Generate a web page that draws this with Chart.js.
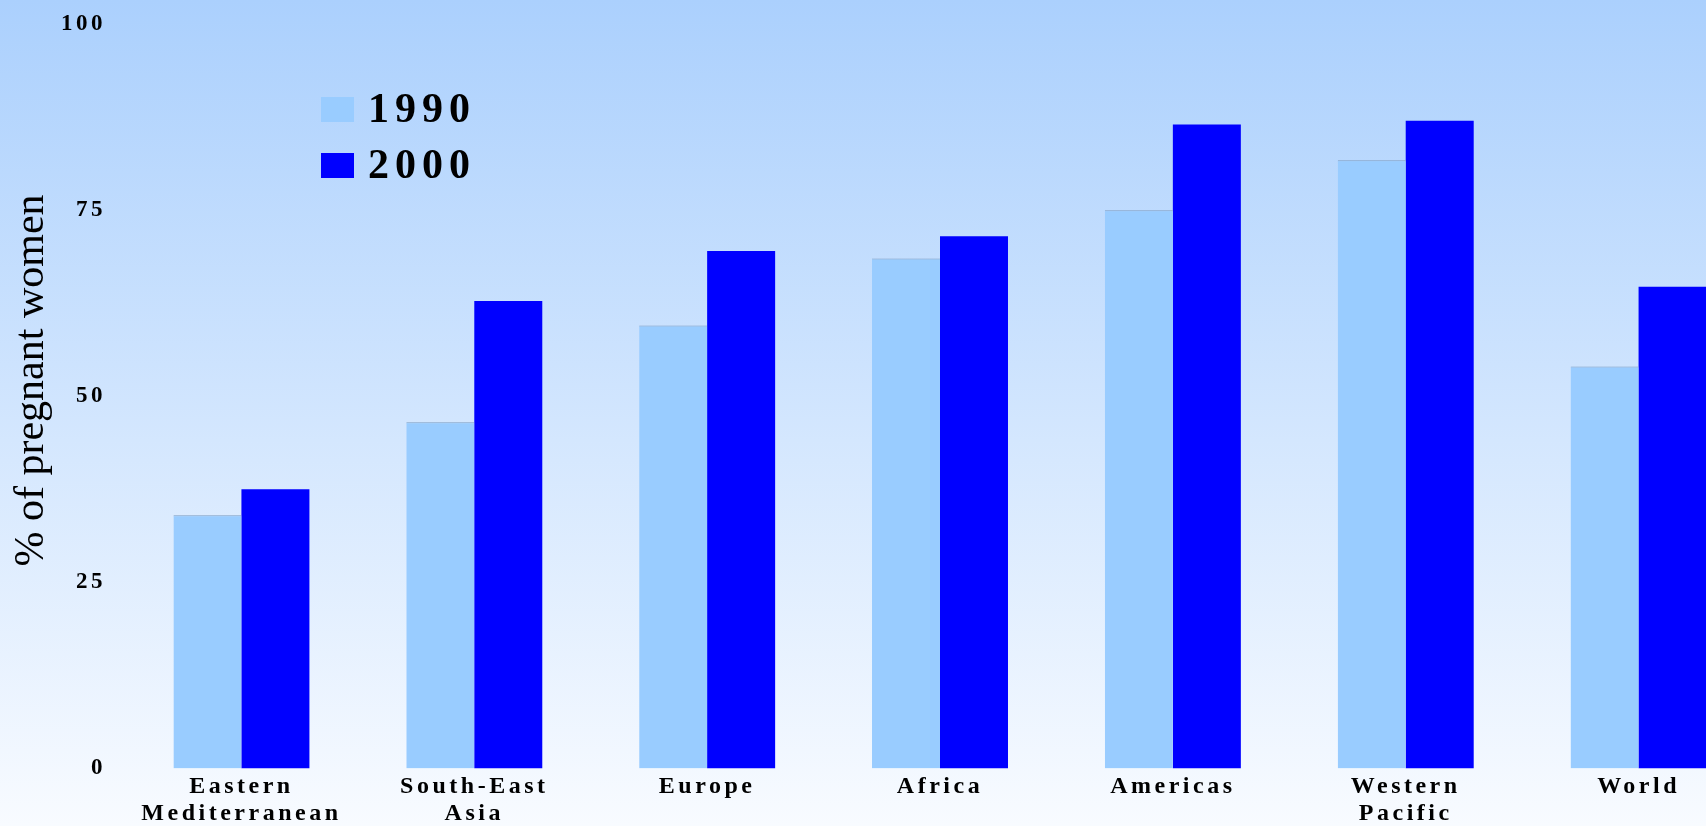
<!DOCTYPE html>
<html>
<head>
<meta charset="utf-8">
<script src="https://cdn.jsdelivr.net/npm/chart.js@4.4.0/dist/chart.umd.min.js"></script>
<style>
  html, body { margin: 0; padding: 0; width: 1706px; height: 826px; overflow: hidden; }
  body { background: linear-gradient(to bottom, #abd0fd 0%, #f8fbff 100%); }
  canvas { display: block; }
</style>
</head>
<body>
<canvas id="barChart" width="1755" height="826"></canvas>
<script>
const regions = [['Eastern', 'Mediterranean'], ['South-East', 'Asia'], 'Europe', 'Africa', 'Americas', ['Western', 'Pacific'], 'World'];
const years = ['1990', '2000'];
const values1990 = [34, 46.5, 59.5, 68.5, 75, 81.7, 54];
const values2000 = [37.5, 62.8, 69.5, 71.5, 86.5, 87, 64.7];
const yTicks = [0, 25, 50, 75, 100];

const serif = "'Liberation Serif', 'Times New Roman', serif";

// the original text looks stretched sideways, so space out the tick labels
const spacing = {
  id: 'spacing',
  beforeDraw(chart) { chart.ctx.letterSpacing = '0px'; },
  afterDatasetsDraw(chart) { chart.ctx.letterSpacing = '3.5px'; }
};

// legend sits inside the plot, top left
const boxLegend = {
  id: 'boxLegend',
  afterDraw(chart) {
    const ctx = chart.ctx;
    ctx.save();
    ctx.letterSpacing = '6px';
    ctx.font = 'bold 42px ' + serif;
    ctx.textBaseline = 'alphabetic';
    chart.data.datasets.forEach((ds, i) => {
      const y = 97 + i * 56;
      ctx.fillStyle = ds.backgroundColor;
      ctx.fillRect(321, y, 33, 25);
      ctx.fillStyle = '#000';
      ctx.fillText(ds.label, 368, y + 25);
    });
    ctx.restore();
  }
};

const barCtx = document.getElementById('barChart').getContext('2d');
const barChart = new Chart(barCtx, {
  type: 'bar',
  data: {
    labels: regions,
    datasets: [
      {
        label: years[0],
        data: values1990,
        backgroundColor: '#99ccff',
        borderColor: '#7b9cc2',
        borderWidth: { top: 1, right: 0, bottom: 0, left: 0 },
        categoryPercentage: 0.584,
        barPercentage: 1
      },
      {
        label: years[1],
        data: values2000,
        backgroundColor: '#0000ff',
        borderWidth: 0,
        categoryPercentage: 0.584,
        barPercentage: 1
      }
    ]
  },
  options: {
    responsive: false,
    animation: false,
    layout: { padding: { top: 24, left: 0, right: 0, bottom: 0 } },
    plugins: { legend: { display: false }, tooltip: { enabled: false } },
    scales: {
      x: {
        grid: { display: false, drawTicks: false },
        border: { display: false },
        ticks: {
          color: '#000',
          font: { family: serif, size: 24, weight: 'bold', lineHeight: 1.15 },
          padding: 4,
          maxRotation: 0,
          autoSkip: false,
          z: 1
        },
        afterFit(scale) { scale.height = 57.5; }
      },
      y: {
        min: 0,
        max: 100,
        grid: { display: false, drawTicks: false },
        border: { display: false },
        afterBuildTicks(scale) { scale.ticks = yTicks.map(v => ({ value: v })); },
        ticks: {
          color: '#000',
          font: { family: serif, size: 23, weight: 'bold' },
          padding: 19,
          z: 1
        },
        title: {
          display: true,
          // leading spaces nudge the rotated title up a little
          text: '   % of pregnant women',
          color: '#000',
          font: { family: serif, size: 42, lineHeight: 1 },
          padding: { top: 11, bottom: 0 }
        },
        afterFit(scale) {
          scale.width = 125;
          // tick padding would otherwise push the plot top down
          scale.paddingTop = 0;
        }
      }
    }
  },
  plugins: [spacing, boxLegend]
});
</script>
</body>
</html>
